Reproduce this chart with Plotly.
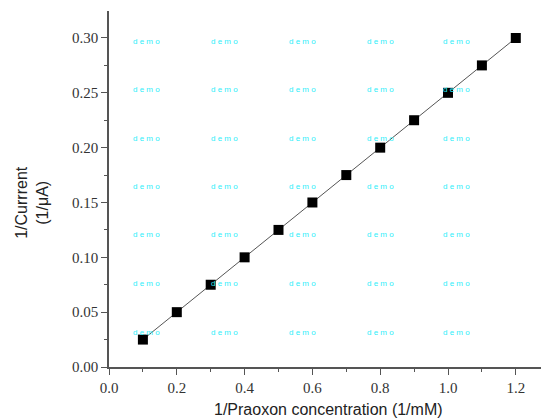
import plotly.graph_objects as go

x_vals = [0.1, 0.2, 0.3, 0.4, 0.5, 0.6, 0.7, 0.8, 0.9, 1.0, 1.1, 1.2]
y_vals = [0.025, 0.05, 0.075, 0.1, 0.125, 0.15, 0.175, 0.2, 0.225, 0.25, 0.275, 0.30]
x_ticks = [0.0, 0.2, 0.4, 0.6, 0.8, 1.0, 1.2]
y_ticks = [0.00, 0.05, 0.10, 0.15, 0.20, 0.25, 0.30]
wm_x = [0.112, 0.341, 0.570, 0.800, 1.024]
wm_y = [0.297, 0.253, 0.2085, 0.1645, 0.1205, 0.076, 0.0318]
x_title = "1/Praoxon concentration (1/mM)"
y_title = "1/Currrent<br>(1/\u03bcA)"

fig = go.Figure()
fig.add_trace(go.Scatter(
    x=x_vals, y=y_vals, mode="lines+markers",
    line=dict(color="#555555", width=1),
    marker=dict(symbol="square", size=10, color="black"),
    showlegend=False,
))

for wx in wm_x:
    for wy in wm_y:
        fig.add_annotation(x=wx, y=wy, xref="x", yref="y", text="d e m o",
                           showarrow=False, font=dict(family="Liberation Sans", size=8, color="#2eeefa"))

fig.add_annotation(text=x_title, xref="paper", yref="paper", x=0.5, y=-0.118,
                   xanchor="center", yanchor="middle", showarrow=False,
                   font=dict(family="Liberation Sans", size=16, color="#222222"))
fig.add_annotation(text=y_title, xref="paper", yref="paper", x=-0.174, y=0.463,
                   xanchor="center", yanchor="middle", showarrow=False, textangle=-90,
                   font=dict(family="Liberation Sans", size=16, color="#222222"))

axis_common = dict(
    showline=True, linecolor="#555555", linewidth=1.5,
    ticks="outside", ticklen=6, tickwidth=1.2, tickcolor="#555555",
    showgrid=False, zeroline=False, automargin=False,
    tickfont=dict(family="Liberation Serif", size=15, color="#333333"),
)

fig.update_xaxes(
    range=[0, 1.295], tickvals=x_ticks, ticktext=[f"{v:.1f}" for v in x_ticks],
    minor=dict(ticks="outside", ticklen=3, tickcolor="#555555", dtick=0.1, tick0=0),
    **axis_common,
)
fig.update_yaxes(
    range=[0, 0.3246], tickvals=y_ticks, ticktext=[f"{v:.2f}" for v in y_ticks],
    minor=dict(ticks="outside", ticklen=3, tickcolor="#555555", dtick=0.025, tick0=0),
    **axis_common,
)

fig.update_layout(
    width=541, height=412,
    margin=dict(l=101, r=1, t=3, b=53),
    plot_bgcolor="white", paper_bgcolor="white",
)

fig.write_html("out.html")
